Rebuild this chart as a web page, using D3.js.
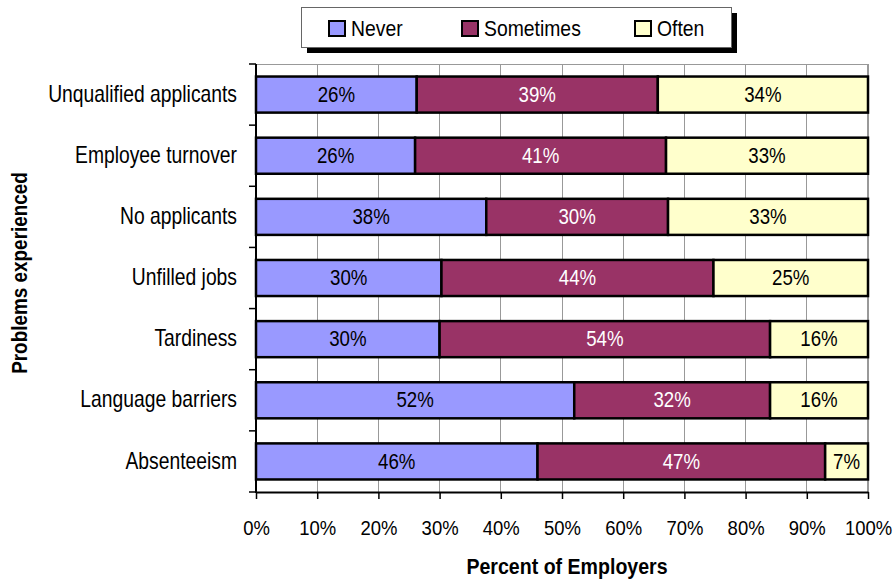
<!DOCTYPE html>
<html><head><meta charset="utf-8">
<script src="https://cdn.jsdelivr.net/npm/d3@7"></script>
<style>
html,body{margin:0;padding:0;background:#fff;}
svg{display:block;font-family:"Liberation Sans",Arial,sans-serif;}
</style></head>
<body>
<svg id="chart" width="896" height="581"></svg>
<script>
const categories = ["Unqualified applicants","Employee turnover","No applicants","Unfilled jobs","Tardiness","Language barriers","Absenteeism"];
const seriesNames = ["Never","Sometimes","Often"];
const never     = [26, 26, 38, 30, 30, 52, 46];
const sometimes = [39, 41, 30, 44, 54, 32, 47];
const often     = [34, 33, 33, 25, 16, 16, 7];
const xTicks = [0,0.1,0.2,0.3,0.4,0.5,0.6,0.7,0.8,0.9,1];
const colors = ["#9999ff","#993366","#ffffcc"];
const labelColors = ["#000","#fff","#000"];

const rows = categories.map((c,i)=>({cat:c, Never:never[i], Sometimes:sometimes[i], Often:often[i]}));
const stack = d3.stack().keys(seriesNames).offset(d3.stackOffsetExpand);
const layers = stack(rows);

const svg = d3.select("#chart");
const L = 256, R = 868, T = 64, B = 492;
const x = d3.scaleLinear().domain([0,1]).range([L,R]);
const y = d3.scaleBand().domain(categories).range([T,B]).paddingInner(0.41).paddingOuter(0.205);

function ntext(parent, px, py, s, str){
  const gg = parent.append("g").attr("transform",`translate(${px},${py})`);
  return gg.append("text").attr("transform",`scale(${s},1)`).text(str);
}

// gridlines
svg.append("g").selectAll("line").data(xTicks.slice(1)).join("line")
  .attr("x1",d=>x(d)).attr("x2",d=>x(d)).attr("y1",T).attr("y2",B)
  .attr("stroke","#999").attr("stroke-width",1).attr("shape-rendering","crispEdges");
svg.append("line").attr("x1",L).attr("x2",R).attr("y1",T).attr("y2",T).attr("stroke","#999").attr("shape-rendering","crispEdges");
svg.append("line").attr("x1",R).attr("x2",R).attr("y1",T).attr("y2",B).attr("stroke","#999").attr("stroke-width",2).attr("shape-rendering","crispEdges");

// bars
const g = svg.append("g");
layers.forEach((layer,k)=>{
  g.append("g").selectAll("rect").data(layer).join("rect")
    .attr("x",d=>x(d[0])).attr("width",d=>x(d[1])-x(d[0]))
    .attr("y",d=>y(d.data.cat)).attr("height",y.bandwidth())
    .attr("fill",colors[k]).attr("stroke","#000").attr("stroke-width",2.5);
  const lg = g.append("g");
  layer.forEach(d=>{
    ntext(lg,(x(d[0])+x(d[1]))/2, y(d.data.cat)+y.bandwidth()/2 - 1, 0.83, d.data[seriesNames[k]]+"%")
      .attr("text-anchor","middle").attr("dominant-baseline","central")
      .attr("fill",labelColors[k]).attr("font-size",22.5);
  });
});

// x axis
const xAxis = d3.axisBottom(x).tickValues(xTicks).tickFormat(d3.format(".0%")).tickSize(7).tickSizeOuter(0);
const xg = svg.append("g").attr("transform",`translate(0,${B})`).call(xAxis);
xg.select(".domain").attr("stroke","#000").attr("stroke-width",2);
xg.selectAll(".tick line").attr("stroke","#000").attr("stroke-width",1.5);
xg.selectAll(".tick text").attr("font-size",21).attr("fill","#000").attr("font-family","inherit")
  .attr("y",35.5).attr("dy",0).attr("dominant-baseline","central").attr("transform","scale(0.88,1)");

// y axis
const yEdges = d3.range(categories.length+1).map(i=>T + i*(B-T)/categories.length);
const yAxis = d3.axisLeft(y).tickSize(0).tickPadding(19);
const yg = svg.append("g").attr("transform",`translate(${L},0)`).call(yAxis);
yg.select(".domain").remove();
yg.selectAll(".tick text").attr("font-size",23).attr("fill","#000").attr("font-family","inherit")
  .attr("x",-19/0.84).attr("dy",0).attr("y",-1).attr("dominant-baseline","central").attr("transform","scale(0.84,1)");
svg.append("line").attr("x1",L).attr("x2",L).attr("y1",T).attr("y2",B+1).attr("stroke","#000").attr("stroke-width",2);
svg.append("g").selectAll("line").data(yEdges).join("line")
  .attr("x1",L-7).attr("x2",L).attr("y1",d=>d).attr("y2",d=>d).attr("stroke","#000").attr("stroke-width",1.5);

// axis titles
ntext(svg,567,566,0.89,"Percent of Employers").attr("text-anchor","middle").attr("dominant-baseline","central")
  .attr("font-size",22).attr("font-weight","bold");
const yt = svg.append("g").attr("transform","translate(19,273) rotate(-90)");
yt.append("text").attr("transform","scale(0.86,1)").attr("text-anchor","middle").attr("dominant-baseline","central")
  .attr("font-size",22).attr("font-weight","bold").text("Problems experienced");

// legend
const lgd = svg.append("g");
lgd.append("rect").attr("x",307).attr("y",13).attr("width",430).attr("height",40).attr("fill","#000");
lgd.append("rect").attr("x",301.5).attr("y",7.5).attr("width",430).attr("height",40).attr("fill","#fff").attr("stroke","#666").attr("stroke-width",1);
const legX = [329, 462, 635];
seriesNames.forEach((s,k)=>{
  lgd.append("rect").attr("x",legX[k]).attr("y",21).attr("width",16).attr("height",15)
    .attr("fill",colors[k]).attr("stroke","#000").attr("stroke-width",2);
  ntext(lgd,legX[k]+22,28,0.88,s).attr("dominant-baseline","central").attr("font-size",22);
});
</script>
</body></html>
